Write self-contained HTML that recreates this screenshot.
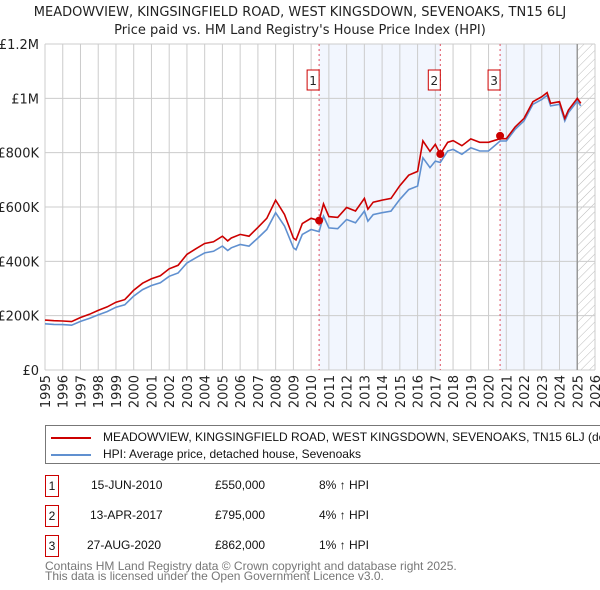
<!DOCTYPE html>
<html><head><meta charset="utf-8"><style>
html,body{margin:0;background:#fff;font-family:"Liberation Sans","DejaVu Sans",sans-serif;width:600px;height:590px;overflow:hidden;}
#c{position:relative;width:600px;height:590px;overflow:hidden;}
svg text{font-family:"DejaVu Sans","Liberation Sans",sans-serif;}
.cell{position:absolute;white-space:nowrap;}
</style></head><body>
<div id="c">
<svg id="s" width="600" height="590" style="position:absolute;left:0;top:0"></svg>
<div style="position:absolute;left:45px;top:425px;width:570px;height:37px;border:1px solid #777;font-size:12px;color:#111;">
 <div class="cell" style="left:5px;top:4px;"><span style="display:inline-block;width:40px;border-top:2px solid #cc0000;vertical-align:middle;margin-right:12px;"></span>MEADOWVIEW, KINGSINGFIELD ROAD, WEST KINGSDOWN, SEVENOAKS, TN15 6LJ (detached house)</div>
 <div class="cell" style="left:5px;top:21px;"><span style="display:inline-block;width:40px;border-top:2px solid #6090d0;vertical-align:middle;margin-right:12px;"></span>HPI: Average price, detached house, Sevenoaks</div>
</div>
<div style="position:absolute;left:0;top:0;width:600px;font-size:12px;color:#111;">
 <div>
  <div class="cell" style="left:45px;top:475px;width:12px;height:20px;border:1px solid #cc0000;text-align:center;line-height:20px;">1</div>
  <div class="cell" style="left:91px;top:478px;">15-JUN-2010</div>
  <div class="cell" style="left:215px;top:478px;">£550,000</div>
  <div class="cell" style="left:319px;top:478px;">8% ↑ HPI</div>
 </div>
 <div>
  <div class="cell" style="left:45px;top:505px;width:12px;height:20px;border:1px solid #cc0000;text-align:center;line-height:20px;">2</div>
  <div class="cell" style="left:90px;top:508px;">13-APR-2017</div>
  <div class="cell" style="left:215px;top:508px;">£795,000</div>
  <div class="cell" style="left:319px;top:508px;">4% ↑ HPI</div>
 </div>
 <div>
  <div class="cell" style="left:45px;top:535px;width:12px;height:20px;border:1px solid #cc0000;text-align:center;line-height:20px;">3</div>
  <div class="cell" style="left:87px;top:538px;">27-AUG-2020</div>
  <div class="cell" style="left:215px;top:538px;">£862,000</div>
  <div class="cell" style="left:319px;top:538px;">1% ↑ HPI</div>
 </div>
</div>
<div class="cell" style="left:45px;top:561px;font-size:12px;color:#777;line-height:10px;">Contains HM Land Registry data © Crown copyright and database right 2025.<br>This data is licensed under the Open Government Licence v3.0.</div>
</div>
<script>
const hpiYears=[1995,1995.5,1996,1996.5,1997,1997.5,1998,1998.5,1999,1999.5,2000,2000.5,2001,2001.5,2002,2002.5,2003,2003.5,2004,2004.5,2005,2005.3,2005.5,2006,2006.5,2007,2007.5,2008,2008.5,2009,2009.15,2009.5,2010,2010.45,2010.7,2011,2011.5,2012,2012.5,2013,2013.2,2013.5,2014,2014.5,2015,2015.5,2016,2016.3,2016.7,2017,2017.28,2017.7,2018,2018.5,2019,2019.5,2020,2020.65,2021,2021.5,2022,2022.5,2023,2023.3,2023.5,2024,2024.3,2024.5,2025,2025.2];
const hpiValues=[170,168,167,165,179,190,203,215,231,240,272,296,311,321,345,357,394,413,431,437,456,440,450,462,456,486,517,579,530,450,443,499,517,509,566,523,520,554,542,585,548,572,579,585,628,664,677,781,745,769,764,806,812,794,818,806,806,843,843,886,917,978,996,1011,972,978,917,947,990,972];
const saleYears=[2010.45,2017.28,2020.65];
const salePrices=[550,795,862];
const saleRatios=[1.08,1.04,1.01];
const yTicks=[0,200,400,600,800,1000,1200];
const yTickLabels=["£0","£200K","£400K","£600K","£800K","£1M","£1.2M"];
const xTicks=[1995,1996,1997,1998,1999,2000,2001,2002,2003,2004,2005,2006,2007,2008,2009,2010,2011,2012,2013,2014,2015,2016,2017,2018,2019,2020,2021,2022,2023,2024,2025,2026];

const NS="http://www.w3.org/2000/svg";
const svg=document.getElementById('s');
const L=45,R=595,T=44,B=370;
const X=y=>L+(y-1995)*(R-L)/31;
const Y=v=>B-v*(B-T)/1200;
function el(t,a,p){const e=document.createElementNS(NS,t);for(const k in a)e.setAttribute(k,a[k]);(p||svg).appendChild(e);return e;}

let t1=el('text',{x:300,y:16,'text-anchor':'middle','font-size':13,fill:'#222'});t1.textContent="MEADOWVIEW, KINGSINGFIELD ROAD, WEST KINGSDOWN, SEVENOAKS, TN15 6LJ";


let t2=el('text',{x:300,y:34,'text-anchor':'middle','font-size':13,fill:'#222'});t2.textContent="Price paid vs. HM Land Registry's House Price Index (HPI)";



const sh1=el('rect',{x:X(saleYears[0]),y:T,width:X(saleYears[1])-X(saleYears[0]),height:B-T,fill:'#eef3fd',opacity:0.75});


const sh2=el('rect',{x:X(saleYears[2]),y:T,width:X(2025)-X(saleYears[2]),height:B-T,fill:'#eef3fd',opacity:0.75});


const defs=el('defs',{});
const pat=el('pattern',{id:'h',width:6,height:6,patternUnits:'userSpaceOnUse',patternTransform:'rotate(45)'},defs);
el('line',{x1:0,y1:0,x2:0,y2:6,stroke:'#bbb','stroke-width':1},pat);
const hr=el('rect',{x:X(2025),y:T,width:R-X(2025),height:B-T,fill:'url(#h)'});



xTicks.forEach(yr=>{
  const g=el('line',{x1:X(yr),x2:X(yr),y1:T,y2:B,stroke:'#ccc','stroke-width':1});
  
  
  const tx=el('text',{transform:`translate(${X(yr)+5},${B+5}) rotate(-90)`,'text-anchor':'end','font-size':13,fill:'#222'});
  tx.textContent=yr;
  
  
});
yTicks.forEach((v,i)=>{
  const g=el('line',{x1:L,x2:R,y1:Y(v),y2:Y(v),stroke:'#ccc','stroke-width':1});
  
  
  const tx=el('text',{x:L-6,y:Y(v)+5,'text-anchor':'end','font-size':13,fill:'#222'});
  tx.textContent=yTickLabels[i];
  
  
});
const x25=el('line',{x1:X(2025),x2:X(2025),y1:T,y2:B,stroke:'#999','stroke-width':1.5});



saleYears.forEach((sy,i)=>{
  const l=el('line',{x1:X(sy),x2:X(sy),y1:T,y2:B,stroke:'#e05060','stroke-width':1,'stroke-dasharray':'2,3'});
  
  
  const bx=el('rect',{x:X(sy)-12,y:70,width:12,height:20,fill:'#fff',stroke:'#cc0000','stroke-width':1});
  
  
  const bt=el('text',{x:X(sy)-6,y:85,'text-anchor':'middle','font-size':12,fill:'#222'});bt.textContent=i+1;
  
  
});

function ratioAt(yr){return yr<saleYears[1]?saleRatios[0]:(yr<saleYears[2]?saleRatios[1]:saleRatios[2]);}
const hp=hpiYears.map((y,i)=>`${X(y).toFixed(1)},${Y(hpiValues[i]).toFixed(1)}`).join(' ');
const rp=hpiYears.map((y,i)=>`${X(y).toFixed(1)},${Y(hpiValues[i]*ratioAt(y)).toFixed(1)}`).join(' ');
const hl=el('polyline',{points:hp,fill:'none',stroke:'#6090d0','stroke-width':1.6});


const rl=el('polyline',{points:rp,fill:'none',stroke:'#cc0000','stroke-width':1.6});


saleYears.forEach((sy,i)=>{
  const c=el('circle',{cx:X(sy),cy:Y(salePrices[i]),r:4,fill:'#cc0000'});
  
  
});
</script>
</body></html>
